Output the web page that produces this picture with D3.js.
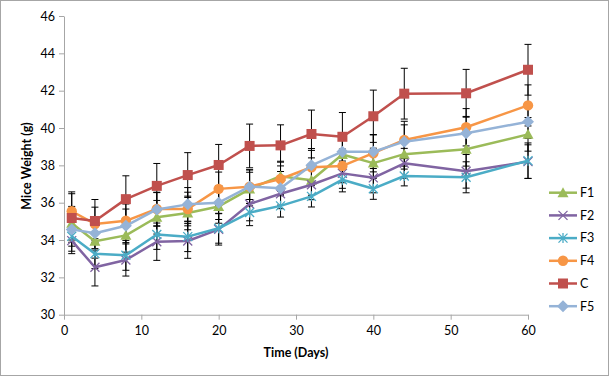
<!DOCTYPE html>
<html><head><meta charset="utf-8">
<script src="https://cdn.jsdelivr.net/npm/d3@7"></script>
<style>body{margin:0;background:#fff}svg{display:block}text{font-family:Lato,"Open Sans",sans-serif}</style>
</head><body><svg id="c" width="612" height="377"></svg>
<script>
const days = [1,4,8,12,16,20,24,28,32,36,40,44,52,60];
const seriesNames = ["F1","F2","F3","F4","C","F5"];
const F1 = [34.9,33.93,34.25,35.22,35.45,35.8,36.73,37.42,37.2,38.58,38.12,38.6,38.86,39.66];
const F2 = [33.97,32.54,32.93,33.91,33.95,34.57,35.93,36.48,36.96,37.57,37.33,38.11,37.68,38.2];
const F3 = [34.2,33.27,33.18,34.3,34.18,34.63,35.47,35.83,36.34,37.23,36.75,37.43,37.36,38.25];
const F4 = [35.54,34.86,35.03,35.66,35.66,36.74,36.86,37.27,37.9,37.97,38.65,39.36,40.04,41.21];
const C  = [35.18,35.02,36.19,36.9,37.48,38.02,39.04,39.07,39.68,39.53,40.63,41.84,41.86,43.12];
const F5 = [34.57,34.36,34.76,35.64,35.91,36.0,36.86,36.77,38.0,38.73,38.73,39.27,39.72,40.34];
const errF1 = [0.9,0.9,0.9,0.9,0.9,0.9,0.9,0.8,0.8,0.8,0.8,0.8,0.9,0.9];
const errF2 = [0.7,1.0,0.86,1.0,0.93,0.84,0.9,0.8,0.8,0.8,0.8,0.8,0.9,0.9];
const errF3 = [0.8,0.8,0.8,0.8,0.8,0.8,0.7,0.6,0.57,0.65,0.57,0.53,0.83,0.95];
const errF4 = [1.04,0.9,0.9,0.9,0.9,0.9,0.9,0.9,0.9,0.9,1.0,1.0,1.0,1.1];
const errC  = [1.3,1.15,1.25,1.2,1.2,1.1,1.17,1.1,1.28,1.3,1.4,1.36,1.28,1.36];
const errF5 = [0.9,0.9,0.9,0.9,0.9,0.9,0.9,0.9,0.9,0.9,0.9,0.9,0.9,0.9];
const xTicks = [0,10,20,30,40,50,60];
const yTicks = [30,32,34,36,38,40,42,44,46];
const colors = ["#9BBB59","#8064A2","#4BACC6","#F79646","#C0504D","#95B3D7"];
const markers = ["triangle","x","asterisk","circle","square","diamond"];
const values = [F1,F2,F3,F4,C,F5];
const errs = [errF1,errF2,errF3,errF4,errC,errF5];

const svg = d3.select("#c");
svg.append("rect").attr("x",0.5).attr("y",0.5).attr("width",608).attr("height",375)
  .attr("fill","#fff").attr("stroke","#a6a6a6").attr("stroke-width",1);

const x = d3.scaleLinear().domain([0,60]).range([64,528]);
const y = d3.scaleLinear().domain([30,46]).range([314.7,16]);

const xAxis = svg.append("g").attr("transform","translate(0,314.7)")
  .call(d3.axisBottom(x).tickValues(xTicks).tickSize(5).tickPadding(4).tickSizeOuter(0));
const yAxis = svg.append("g").attr("transform","translate(64,0)")
  .call(d3.axisLeft(y).tickValues(yTicks).tickSize(5).tickPadding(4).tickSizeOuter(0));
[xAxis,yAxis].forEach(a=>{
  a.select(".domain").attr("stroke","#a6a6a6");
  a.selectAll(".tick line").attr("stroke","#a6a6a6");
  a.selectAll("text").attr("fill","#000").style("font-size","12.5px").style("font-family","Lato,'Open Sans',sans-serif");
});
xAxis.selectAll("text").attr("dy","0.9em");

svg.append("text").attr("x",296).attr("y",357).attr("text-anchor","middle")
  .style("font-size","12.5px").style("font-weight","bold").text("Time (Days)");
svg.append("text").attr("transform","translate(31,166) rotate(-90)").attr("text-anchor","middle")
  .style("font-size","12.5px").style("font-weight","bold").text("Mice Weight (g)");

// error bars
const eg = svg.append("g");
values.forEach((vals,si)=>{
  vals.forEach((v,i)=>{
    const e = errs[si][i], cx = x(days[i]);
    eg.append("line").attr("x1",cx).attr("x2",cx).attr("y1",y(v-e)).attr("y2",y(v+e))
      .attr("stroke","#000").attr("stroke-width",1);
    [v-e,v+e].forEach(t=>eg.append("line").attr("x1",cx-3.5).attr("x2",cx+3.5).attr("y1",y(t)).attr("y2",y(t))
      .attr("stroke","#000").attr("stroke-width",1));
  });
});

function drawMarker(g, type, cx, cy, col){
  if(type==="triangle"){
    g.append("path").attr("d",`M${cx},${cy-5.5}L${cx+5.5},${cy+4.5}L${cx-5.5},${cy+4.5}Z`).attr("fill",col);
  } else if(type==="x"){
    g.append("path").attr("d",`M${cx-4.5},${cy-4.5}L${cx+4.5},${cy+4.5}M${cx-4.5},${cy+4.5}L${cx+4.5},${cy-4.5}`)
      .attr("stroke",col).attr("stroke-width",1.3).attr("fill","none");
  } else if(type==="asterisk"){
    g.append("path").attr("d",`M${cx-4.5},${cy-4.5}L${cx+4.5},${cy+4.5}M${cx-4.5},${cy+4.5}L${cx+4.5},${cy-4.5}M${cx},${cy-5}L${cx},${cy+5}`)
      .attr("stroke",col).attr("stroke-width",1.3).attr("fill","none");
  } else if(type==="circle"){
    g.append("circle").attr("cx",cx).attr("cy",cy).attr("r",5.2).attr("fill",col);
  } else if(type==="square"){
    g.append("rect").attr("x",cx-5).attr("y",cy-5).attr("width",10).attr("height",10).attr("fill",col);
  } else if(type==="diamond"){
    g.append("path").attr("d",`M${cx},${cy-6}L${cx+6},${cy}L${cx},${cy+6}L${cx-6},${cy}Z`).attr("fill",col);
  }
}

const line = d3.line().x((d,i)=>x(days[i])).y(d=>y(d));
values.forEach((vals,si)=>{
  const g = svg.append("g");
  g.append("path").datum(vals).attr("d",line).attr("fill","none")
    .attr("stroke",colors[si]).attr("stroke-width",2.5).attr("stroke-linejoin","round");
  vals.forEach((v,i)=>drawMarker(g,markers[si],x(days[i]),y(v),colors[si]));
});

// legend
const lg = svg.append("g");
seriesNames.forEach((n,i)=>{
  const ly = 192.7 + i*22.7;
  lg.append("line").attr("x1",549).attr("x2",577).attr("y1",ly).attr("y2",ly)
    .attr("stroke",colors[i]).attr("stroke-width",2.5);
  drawMarker(lg,markers[i],563,ly,colors[i]);
  lg.append("text").attr("x",580).attr("y",ly).attr("dy","0.35em").style("font-size","12.5px").text(n);
});
</script></body></html>
